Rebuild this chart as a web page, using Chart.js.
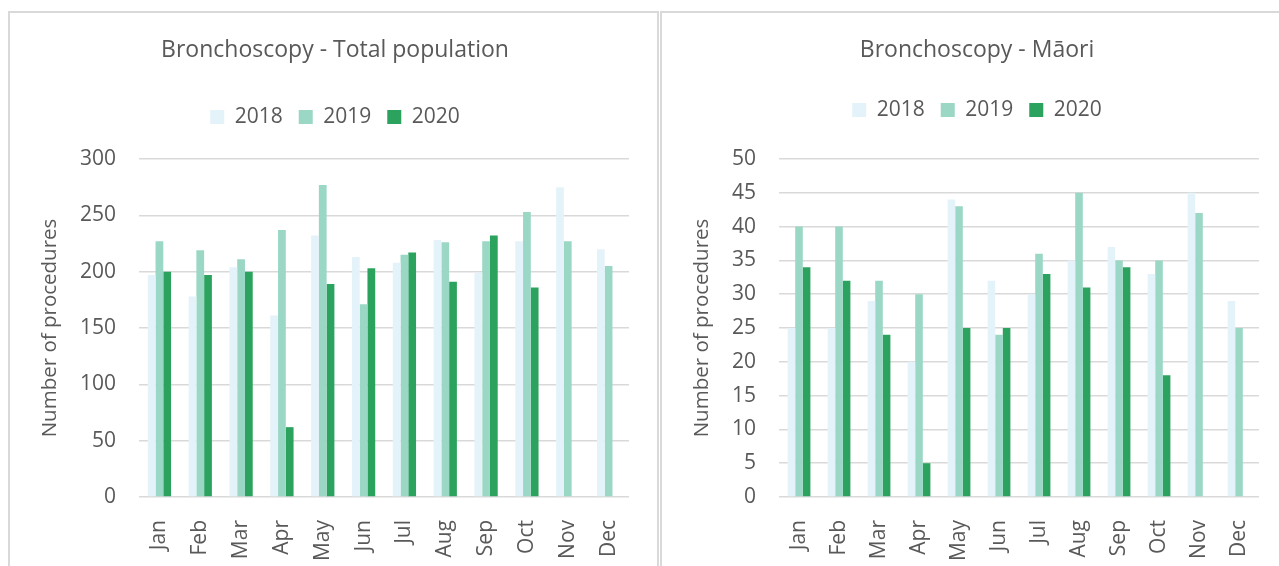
<!DOCTYPE html>
<html lang="en">
<head>
<meta charset="UTF-8" />
<title>Bronchoscopy procedures</title>
<script src="https://cdn.jsdelivr.net/npm/chart.js@4.4.1/dist/chart.umd.min.js"></script>
<style>
 * { margin: 0; padding: 0; box-sizing: border-box; }
 body { width: 1279px; height: 566px; overflow: hidden; background: #fff; position: relative; }
 .panel { position: absolute; top: 11px; height: 620px; border: 2px solid #d9d9d9; }
 #left-panel { left: 8px; width: 651px; }
 #right-panel { left: 660px; width: 700px; }
 canvas { display: block; }
</style>
</head>
<body>
<div class="panel" id="left-panel"><canvas id="total-chart" width="650" height="553"></canvas></div>
<div class="panel" id="right-panel"><canvas id="maori-chart" width="630" height="553"></canvas></div>

<script>
const months = ['Jan', 'Feb', 'Mar', 'Apr', 'May', 'Jun', 'Jul', 'Aug', 'Sep', 'Oct', 'Nov', 'Dec']
const years = ['2018', '2019', '2020']

// monthly procedure counts, total population
const total2018 = [197, 178, 204, 161, 232, 213, 208, 228, 199, 227, 275, 220]
const total2019 = [227, 219, 211, 237, 277, 171, 215, 226, 227, 253, 227, 205]
const total2020 = [200, 197, 200, 62, 189, 203, 217, 191, 232, 186, null, null]

// monthly procedure counts, Māori
const maori2018 = [25, 25, 29, 20, 44, 32, 30, 35, 37, 33, 45, 29]
const maori2019 = [40, 40, 32, 30, 43, 24, 36, 45, 35, 35, 42, 25]
const maori2020 = [34, 32, 24, 5, 25, 25, 33, 31, 34, 18, null, null]

const yearColors = ['#e4f3f9', '#9bd7c5', '#2ca25f']

Chart.defaults.font.family = "'Open Sans', sans-serif"
Chart.defaults.color = '#595959'

function buildChart(canvasId, titleText, series, yMax, yStep, layout) {
 return new Chart(document.getElementById(canvasId), {
  type: 'bar',
  data: {
   labels: months,
   datasets: series.map((values, i) => ({
    label: years[i],
    data: values,
    xAxisID: 'x',
    yAxisID: 'y',
    backgroundColor: yearColors[i],
    barPercentage: 1,
    categoryPercentage: 0.57
   }))
  },
  options: {
   responsive: false,
   animation: false,
   layout: { padding: 0 },
   plugins: {
    tooltip: { enabled: false },
    title: {
     display: true,
     text: titleText,
     font: { size: 23, weight: 'normal' },
     color: '#595959',
     padding: { top: 23.2, bottom: layout.titleGap }
    },
    legend: {
     display: true,
     position: 'top',
     labels: { boxWidth: 14, boxHeight: 14, padding: 16, font: { size: 21 }, color: '#595959' }
    }
   },
   scales: {
    x: {
     grid: { display: false },
     border: { display: false },
     ticks: { autoSkip: false, minRotation: 90, maxRotation: 90, padding: 15, font: { size: 21 } },
     afterFit: s => { s.height = 69 }
    },
    // empty bands around the plot: under the legend and right of the bars
    xTop: {
     type: 'category',
     position: 'top',
     grid: { display: false },
     border: { display: false },
     ticks: { display: false },
     afterFit: s => { s.height = layout.legendGap }
    },
    yRight: {
     type: 'linear',
     position: 'right',
     grid: { display: false },
     border: { display: false },
     ticks: { display: false },
     afterFit: s => { s.width = layout.rightGap }
    },
    y: {
     min: 0,
     max: yMax,
     grid: { color: '#d9d9d9', lineWidth: 1.5, drawTicks: false },
     border: { display: false },
     ticks: { stepSize: yStep, padding: 23, font: { size: 21 } },
     title: {
      display: true,
      text: 'Number of procedures',
      font: { size: 20.5 },
      color: '#595959',
      padding: { top: 28, bottom: 0 }
     },
     afterFit: s => { s.width = layout.yWidth }
    }
   }
  }
 })
}

buildChart('total-chart', 'Bronchoscopy - Total population', [total2018, total2019, total2020], 300, 50, {
 yWidth: 129, rightGap: 31, titleGap: 26.7, legendGap: 21.5
})

buildChart('maori-chart', 'Bronchoscopy - Māori', [maori2018, maori2019, maori2020], 50, 5, {
 yWidth: 117, rightGap: 33, titleGap: 19.7, legendGap: 28.5
})
</script>
</body>
</html>
